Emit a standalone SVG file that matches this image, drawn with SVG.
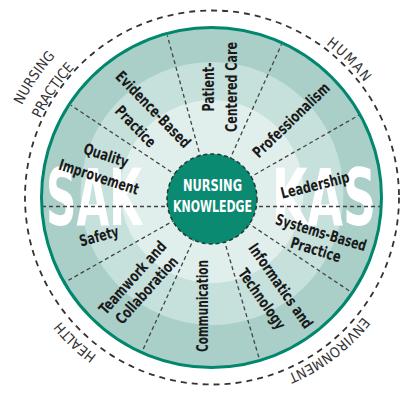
<svg xmlns="http://www.w3.org/2000/svg" width="418" height="400" viewBox="0 0 418 400">
<style>
.lbl{font-family:"Liberation Sans Narrow","DejaVu Sans Condensed","Liberation Sans",sans-serif;font-weight:bold;font-size:15.5px;fill:#1a1a1a;text-anchor:middle}
.outer{font-family:"DejaVu Sans Condensed","Liberation Sans Narrow","Liberation Sans",sans-serif;font-size:14px;fill:#333;text-anchor:middle}
.big{font-family:"Liberation Sans Narrow","DejaVu Sans Condensed","Liberation Sans",sans-serif;font-weight:bold;font-size:78px;fill:#fff}
.ctr{font-family:"Liberation Sans Narrow","DejaVu Sans Condensed","Liberation Sans",sans-serif;font-weight:bold;font-size:16px;fill:#fff;text-anchor:middle}
.rad{stroke:#444;stroke-width:1.3;stroke-dasharray:4 3;fill:none}
</style>
<defs>
<clipPath id="disk"><circle cx="211.5" cy="197.5" r="169"/></clipPath>
<path id="pHuman" d="M228.65,7.23 A191,191 0 0 1 402.27,180.85"/>
<path id="pNursing" d="M2.16,219.55 A211,211 0 0 1 153.84,-5.33"/>
<path id="pPractice" d="M24.04,217.25 A189,189 0 0 1 159.91,15.82"/>
<path id="pHealth" d="M200.07,392.63 A195.5,195.5 0 0 1 17.75,219.63"/>
<path id="pEnv" d="M399.86,239.49 A192.5,192.5 0 0 1 203.27,389.8"/>
</defs>
<g id="background">
<circle cx="212" cy="197.5" r="187" fill="none" stroke="#333" stroke-width="1.8" stroke-dasharray="6 5"/>
<circle cx="211.5" cy="197.5" r="170" fill="#a9cfc8"/>
<circle cx="212" cy="193.5" r="131.5" fill="#c6e0db"/>
<circle cx="212" cy="191.5" r="91.5" fill="#e1efec"/>
<g clip-path="url(#disk)">
<text class="big" x="46" y="225" textLength="96" lengthAdjust="spacingAndGlyphs">SAK</text>
<text class="big" x="272" y="225" textLength="104" lengthAdjust="spacingAndGlyphs">KAS</text>
</g>
</g>
<g id="connectors">
<line class="rad" x1="42" y1="206.5" x2="382" y2="206.5"/>
<line class="rad" x1="212" y1="199" x2="359.2" y2="115"/>
<line class="rad" x1="212" y1="199" x2="281.5" y2="44.4"/>
<line class="rad" x1="212" y1="199" x2="167.3" y2="35.5"/>
<line class="rad" x1="212" y1="199" x2="70.8" y2="105.2"/>
<line class="rad" x1="212" y1="199" x2="64.5" y2="282.5"/>
<line class="rad" x1="212" y1="199" x2="141.4" y2="353.1"/>
<line class="rad" x1="212" y1="199" x2="260.1" y2="361.5"/>
<line class="rad" x1="212" y1="199" x2="352.9" y2="293.3"/>
</g>
<circle cx="211.5" cy="197.5" r="170" fill="none" stroke="#00876d" stroke-width="3"/>
<g id="center">
<circle cx="212" cy="199" r="45" fill="#0b8a72" stroke="#1f3b36" stroke-width="1.5" stroke-dasharray="4 3"/>
<text class="ctr" x="212.5" y="191" textLength="59" lengthAdjust="spacingAndGlyphs">NURSING</text>
<text class="ctr" x="212.5" y="212" textLength="79" lengthAdjust="spacingAndGlyphs">KNOWLEDGE</text>
</g>
<g id="patient-centered-care"><text class="lbl" transform="translate(214,87) rotate(-90)"><tspan x="0" y="0" textLength="49" lengthAdjust="spacingAndGlyphs">Patient-</tspan><tspan x="0" y="23" textLength="90" lengthAdjust="spacingAndGlyphs">Centered Care</tspan></text></g>
<g id="professionalism"><text class="lbl" transform="translate(291,120) rotate(-44)" x="0" y="5.5" textLength="100" lengthAdjust="spacingAndGlyphs">Professionalism</text></g>
<g id="leadership"><text class="lbl" transform="translate(315,185) rotate(-14)" x="0" y="5.5" textLength="70" lengthAdjust="spacingAndGlyphs">Leadership</text></g>
<g id="systems-based-practice"><text class="lbl" transform="translate(318.5,241) rotate(17)"><tspan x="0" y="-3.5" textLength="94" lengthAdjust="spacingAndGlyphs">Systems-Based</tspan><tspan x="0" y="14.5" textLength="52" lengthAdjust="spacingAndGlyphs">Practice</tspan></text></g>
<g id="informatics"><text class="lbl" transform="translate(271.5,292.3) rotate(55)"><tspan x="0" y="-5.9" textLength="100" lengthAdjust="spacingAndGlyphs">Informatics and</tspan><tspan x="0" y="16.9" textLength="70" lengthAdjust="spacingAndGlyphs">Technology</tspan></text></g>
<g id="communication"><text class="lbl" transform="translate(208,306) rotate(-90)" x="0" y="0" textLength="92" lengthAdjust="spacingAndGlyphs">Communication</text></g>
<g id="teamwork"><text class="lbl" transform="translate(139.5,283.8) rotate(-48)"><tspan x="0" y="-3.9" textLength="92" lengthAdjust="spacingAndGlyphs">Teamwork and</tspan><tspan x="0" y="14.9" textLength="85" lengthAdjust="spacingAndGlyphs">Collaboration</tspan></text></g>
<g id="safety"><text class="lbl" transform="translate(99,236) rotate(-15)" x="0" y="5.5" textLength="40" lengthAdjust="spacingAndGlyphs">Safety</text></g>
<g id="quality-improvement"><text class="lbl" transform="translate(102.5,166) rotate(18)"><tspan x="0" y="-5.85" textLength="46" lengthAdjust="spacingAndGlyphs">Quality</tspan><tspan x="0" y="16.85" textLength="83" lengthAdjust="spacingAndGlyphs">Improvement</tspan></text></g>
<g id="evidence-based-practice"><text class="lbl" transform="translate(144.5,117.8) rotate(46)"><tspan x="0" y="-6.75" textLength="100" lengthAdjust="spacingAndGlyphs">Evidence-Based</tspan><tspan x="0" y="17.75" textLength="51" lengthAdjust="spacingAndGlyphs">Practice</tspan></text></g>
<g id="outer-labels">
<text class="outer" letter-spacing="0.2"><textPath href="#pNursing" startOffset="50%">NURSING</textPath></text>
<text class="outer" letter-spacing="0"><textPath href="#pPractice" startOffset="50%">PRACTICE</textPath></text>
<text class="outer" letter-spacing="1.6"><textPath href="#pHuman" startOffset="50%">HUMAN</textPath></text>
<text class="outer" letter-spacing="0.3"><textPath href="#pHealth" startOffset="50%">HEALTH</textPath></text>
<text class="outer" letter-spacing="0.2"><textPath href="#pEnv" startOffset="50%">ENVIRONMENT</textPath></text>
</g>
</svg>
